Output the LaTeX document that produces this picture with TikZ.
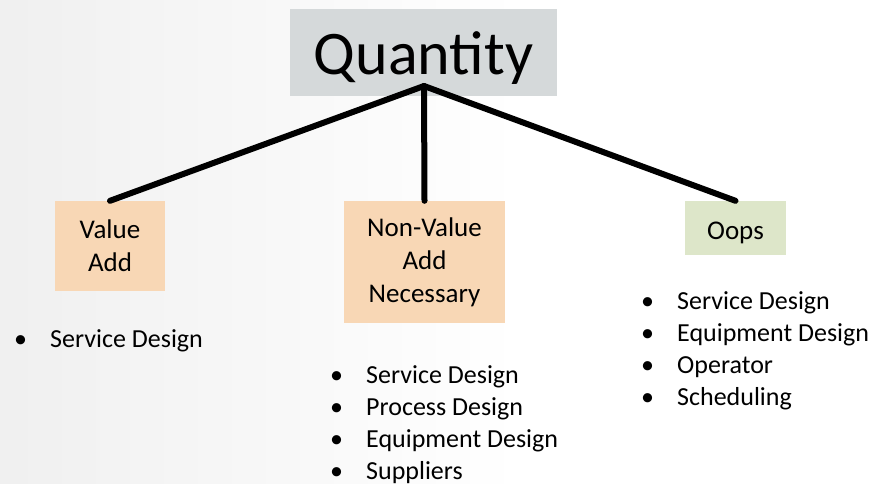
\documentclass[tikz,border=0pt]{standalone}
\usepackage{fontspec}
\setmainfont{Carlito}
\usepackage{tikz}
\definecolor{quantitygray}{HTML}{D5D9DA}
\definecolor{addpeach}{HTML}{F8D7B5}
\definecolor{oopsgreen}{HTML}{DDE6C9}
\newcommand{\bulletitem}[1]{\makebox[36pt][l]{\textbullet}#1\strut}

\begin{document}
\begin{tikzpicture}[x=1pt,y=-1pt,
  box/.style={inner sep=0pt, align=center, font=\fontsize{27}{33}\selectfont},
  listtext/.style={inner sep=0pt, align=left, anchor=north west, font=\fontsize{26}{32}\selectfont},
  branch/.style={line width=6pt, line cap=round}]
\useasboundingbox (0,0) rectangle (876,484);
\shade[left color=black!6, right color=white] (0,0) rectangle (520,484);
\fill[white] (520,0) rectangle (876,484);

\node[box, fill=quantitygray, minimum width=267pt, text height=66pt, text depth=21pt, font=\fontsize{62}{70}\selectfont] (quantity) at (423.5,52.5) {Quantity};
\node[box, fill=addpeach, minimum width=110pt, minimum height=90pt] (valueadd) at (110,246) {Value\\Add};
\node[box, fill=addpeach, minimum width=161pt, minimum height=122pt] (nonvalue) at (424.5,262) {Non-Value\\Add\\Necessary};
\node[box, fill=oopsgreen, minimum width=101pt, text height=38pt, text depth=16pt] (oops) at (735.5,228) {Oops};

\node[listtext] (valuelist) at (14,324.6) {\bulletitem{Service Design}};
\node[listtext] (nonvaluelist) at (330,360.6) {\bulletitem{Service Design}\\
\bulletitem{Process Design}\\
\bulletitem{Equipment Design}\\
\bulletitem{Suppliers}};
\node[listtext] (oopslist) at (641,286.6) {\bulletitem{Service Design}\\
\bulletitem{Equipment Design}\\
\bulletitem{Operator}\\
\bulletitem{Scheduling}};

\coordinate (apex) at (424,86);
\draw[branch] (apex) -- (valueadd.north);
\draw[branch] (apex) -- (nonvalue.north);
\draw[branch] (apex) -- (oops.north);
\end{tikzpicture}
\end{document}
